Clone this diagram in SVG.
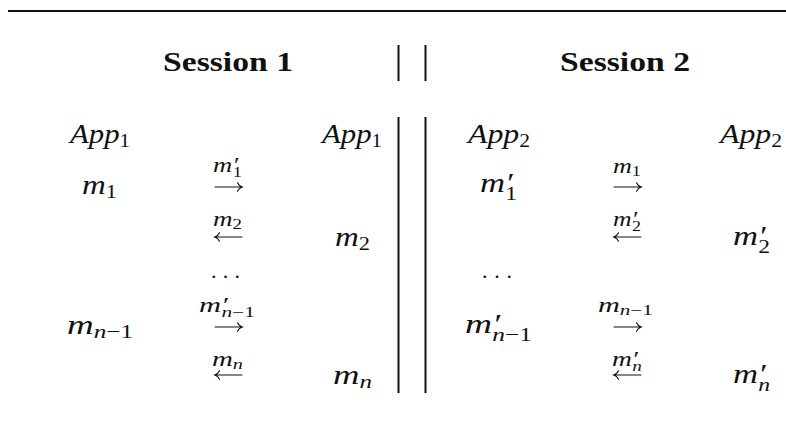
<svg xmlns="http://www.w3.org/2000/svg" width="786" height="425" viewBox="0 0 786 425">
<style>
.title{font-family:'Liberation Serif','Times New Roman',Tinos,Times,serif;font-weight:bold;font-size:27px;fill:#111}
.mi{font-family:'Liberation Serif','Times New Roman',Tinos,Times,serif;font-style:italic;font-size:28px;fill:#111}
.ms{font-family:'Liberation Serif','Times New Roman',Tinos,Times,serif;font-style:italic;font-size:20px;fill:#111}
.sub{font-size:19px;font-style:normal}
.subi{font-size:19px;font-style:italic}
.ssub{font-size:14px}
.ssubn{font-size:14px;font-style:normal}
.rule{stroke:#111;stroke-width:2;fill:none}
.arr{stroke:#111;stroke-width:1.1;fill:none;stroke-linecap:round}
.dots{font-family:'Liberation Serif','Times New Roman',Tinos,Times,serif;font-size:22px;fill:#111}
</style>
<defs>
<path id="ra" class="arr" d="M0,0 H27 M22.5,-4.3 Q23.8,-1.2 27.3,0 Q23.8,1.2 22.5,4.3"/>
<path id="la" class="arr" d="M27,0 H0 M4.5,-4.3 Q3.2,-1.2 -0.3,0 Q3.2,1.2 4.5,4.3"/>
</defs>
<g id="frame">
<line class="rule" x1="8" y1="11" x2="786" y2="11"/>
<line class="rule" x1="398.5" y1="45" x2="398.5" y2="81"/>
<line class="rule" x1="425.5" y1="45" x2="425.5" y2="81"/>
<line class="rule" x1="398.5" y1="117" x2="398.5" y2="393"/>
<line class="rule" x1="425.5" y1="117" x2="425.5" y2="393"/>
</g>
<g id="title1"><text class="title" x="163" y="71" textLength="130" lengthAdjust="spacingAndGlyphs">Session 1</text></g>
<g id="title2"><text class="title" x="560" y="71" textLength="130" lengthAdjust="spacingAndGlyphs">Session 2</text></g>
<g id="connectors">
<use href="#ra" x="215" y="187"/>
<use href="#la" x="215" y="237"/>
<use href="#ra" x="215" y="327"/>
<use href="#la" x="215" y="375"/>
<use href="#ra" x="614" y="187"/>
<use href="#la" x="614" y="237"/>
<use href="#ra" x="614" y="327"/>
<use href="#la" x="614" y="375"/>
</g>
<g id="s1-app-left"><text class="mi" x="70" y="143" textLength="60" lengthAdjust="spacingAndGlyphs">App<tspan class="sub" dy="4">1</tspan></text></g>
<g id="s1-app-right"><text class="mi" x="322" y="143" textLength="60" lengthAdjust="spacingAndGlyphs">App<tspan class="sub" dy="4">1</tspan></text></g>
<g id="s1-m1"><text class="mi" x="82" y="194" textLength="35" lengthAdjust="spacingAndGlyphs">m<tspan class="sub" dy="4">1</tspan></text></g>
<g id="s1-l1"><text class="ms" x="213" y="172" textLength="29" lengthAdjust="spacingAndGlyphs">m′<tspan class="ssubn" dx="-4" dy="5">1</tspan></text></g>
<g id="s1-l2"><text class="ms" x="213" y="226" textLength="29" lengthAdjust="spacingAndGlyphs">m<tspan class="ssubn" dy="3">2</tspan></text></g>
<g id="s1-m2"><text class="mi" x="335" y="246" textLength="35" lengthAdjust="spacingAndGlyphs">m<tspan class="sub" dy="4">2</tspan></text></g>
<g id="s1-dots"><text class="dots" x="211" y="278" textLength="29" lengthAdjust="spacing">...</text></g>
<g id="s1-l3"><text class="ms" x="199" y="312" textLength="56" lengthAdjust="spacingAndGlyphs">m′<tspan class="ssub" dx="-4" dy="5">n</tspan><tspan class="ssubn">−1</tspan></text></g>
<g id="s1-mn1"><text class="mi" x="67" y="334" textLength="66" lengthAdjust="spacingAndGlyphs">m<tspan class="subi" dy="4">n</tspan><tspan class="sub">−1</tspan></text></g>
<g id="s1-l4"><text class="ms" x="212" y="366" textLength="31" lengthAdjust="spacingAndGlyphs">m<tspan class="ssub" dy="3">n</tspan></text></g>
<g id="s1-mn"><text class="mi" x="333" y="384" textLength="39" lengthAdjust="spacingAndGlyphs">m<tspan class="subi" dy="4">n</tspan></text></g>
<g id="s2-app-left"><text class="mi" x="468" y="143" textLength="62" lengthAdjust="spacingAndGlyphs">App<tspan class="sub" dy="4">2</tspan></text></g>
<g id="s2-app-right"><text class="mi" x="720" y="143" textLength="62" lengthAdjust="spacingAndGlyphs">App<tspan class="sub" dy="4">2</tspan></text></g>
<g id="s2-m1p"><text class="mi" x="480" y="192" textLength="37" lengthAdjust="spacingAndGlyphs">m′<tspan class="sub" dx="-6" dy="8">1</tspan></text></g>
<g id="s2-l1"><text class="ms" x="613" y="173" textLength="28" lengthAdjust="spacingAndGlyphs">m<tspan class="ssubn" dy="3">1</tspan></text></g>
<g id="s2-l2"><text class="ms" x="613" y="226" textLength="28" lengthAdjust="spacingAndGlyphs">m′<tspan class="ssubn" dx="-4" dy="5">2</tspan></text></g>
<g id="s2-m2p"><text class="mi" x="733" y="245" textLength="37" lengthAdjust="spacingAndGlyphs">m′<tspan class="sub" dx="-6" dy="8">2</tspan></text></g>
<g id="s2-dots"><text class="dots" x="482" y="278" textLength="30" lengthAdjust="spacing">...</text></g>
<g id="s2-mn1p"><text class="mi" x="465" y="333" textLength="67" lengthAdjust="spacingAndGlyphs">m′<tspan class="subi" dx="-6" dy="8">n</tspan><tspan class="sub">−1</tspan></text></g>
<g id="s2-l3"><text class="ms" x="598" y="312" textLength="55" lengthAdjust="spacingAndGlyphs">m<tspan class="ssub" dy="3">n</tspan><tspan class="ssubn">−1</tspan></text></g>
<g id="s2-l4"><text class="ms" x="612" y="366" textLength="30" lengthAdjust="spacingAndGlyphs">m′<tspan class="ssub" dx="-4" dy="5">n</tspan></text></g>
<g id="s2-mnp"><text class="mi" x="733" y="383" textLength="37" lengthAdjust="spacingAndGlyphs">m′<tspan class="subi" dx="-6" dy="8">n</tspan></text></g>
</svg>
